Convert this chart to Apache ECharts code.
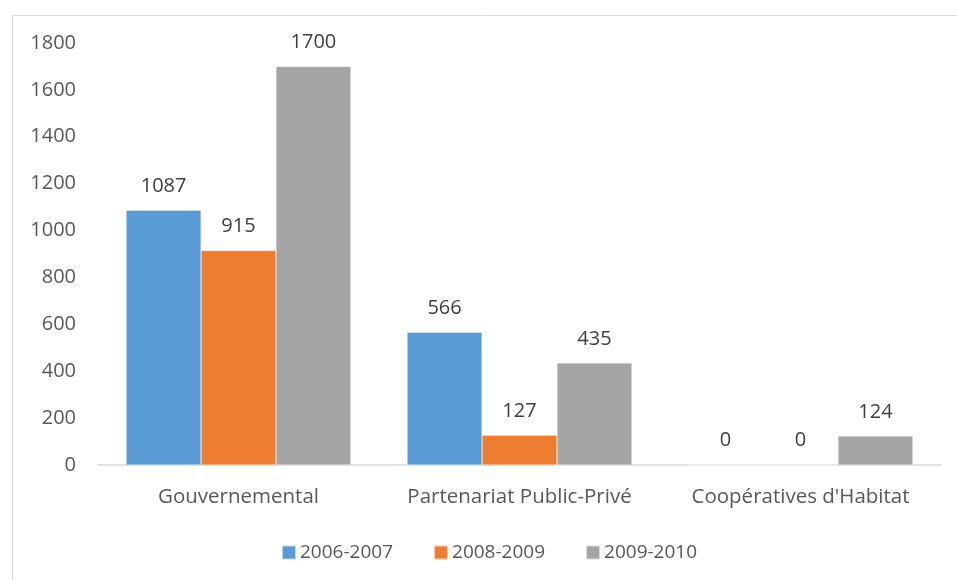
<!DOCTYPE html>
<html>
<head>
<meta charset="utf-8">
<script src="https://cdn.jsdelivr.net/npm/echarts@6/dist/echarts.min.js"></script>
<style>
html,body{margin:0;padding:0;background:#fff;}
#chart{width:957px;height:580px;}
</style>
</head>
<body>
<div id="chart"></div>
<script>
const categories = ["Gouvernemental", "Partenariat Public-Privé", "Coopératives d'Habitat"];
const seriesNames = ["2006-2007", "2008-2009", "2009-2010"];
const values2006 = [1087, 566, 0];
const values2008 = [915, 127, 0];
const values2009 = [1700, 435, 124];
const yTicks = [0, 200, 400, 600, 800, 1000, 1200, 1400, 1600, 1800];

const colors = ["#5B9BD5", "#ED7D31", "#A5A5A5"];
const font = "'Open Sans', sans-serif";

const chart = echarts.init(document.getElementById('chart'));
const mk = (name, data, i) => ({
  name: name,
  type: 'bar',
  data: data,
  barGap: '0%',
  barCategoryGap: '20%',
  itemStyle: { color: colors[i], borderColor: 'rgba(255,255,255,0.6)', borderWidth: 0.5 },
  label: {
    show: true, position: 'top', distance: 14,
    color: '#404040', fontSize: 20, fontFamily: font
  }
});
chart.setOption({
  animation: false,
  graphic: [{
    type: 'rect', left: 10, top: 13,
    shape: { x: 0, y: 0, width: 1200, height: 1200 },
    style: { fill: 'none', stroke: '#d9d9d9', lineWidth: 1 },
    silent: true, z: -1
  }],
  grid: { left: 98, right: 16, top: 43, bottom: 115, containLabel: false },
  legend: {
    data: seriesNames,
    left: 276, top: 538,
    itemWidth: 14, itemHeight: 14, itemGap: 40,
    icon: 'rect',
    textStyle: { color: '#595959', fontSize: 19, fontFamily: font, padding: [0, 0, 0, -1] }
  },
  xAxis: {
    type: 'category',
    data: categories,
    axisLine: { show: true, lineStyle: { color: '#d9d9d9', width: 1.5 } },
    axisTick: { show: false },
    axisLabel: { color: '#595959', fontSize: 20.5, fontFamily: font, margin: 22, interval: 0, hideOverlap: false },
    splitLine: { show: false }
  },
  yAxis: {
    type: 'value',
    min: yTicks[0], max: yTicks[yTicks.length - 1], interval: 200,
    axisLine: { show: false },
    axisTick: { show: false },
    splitLine: { show: false },
    axisLabel: { color: '#595959', fontSize: 20, fontFamily: font, margin: 22, formatter: v => String(v) }
  },
  series: [
    mk(seriesNames[0], values2006, 0),
    mk(seriesNames[1], values2008, 1),
    mk(seriesNames[2], values2009, 2)
  ]
});
</script>
</body>
</html>
